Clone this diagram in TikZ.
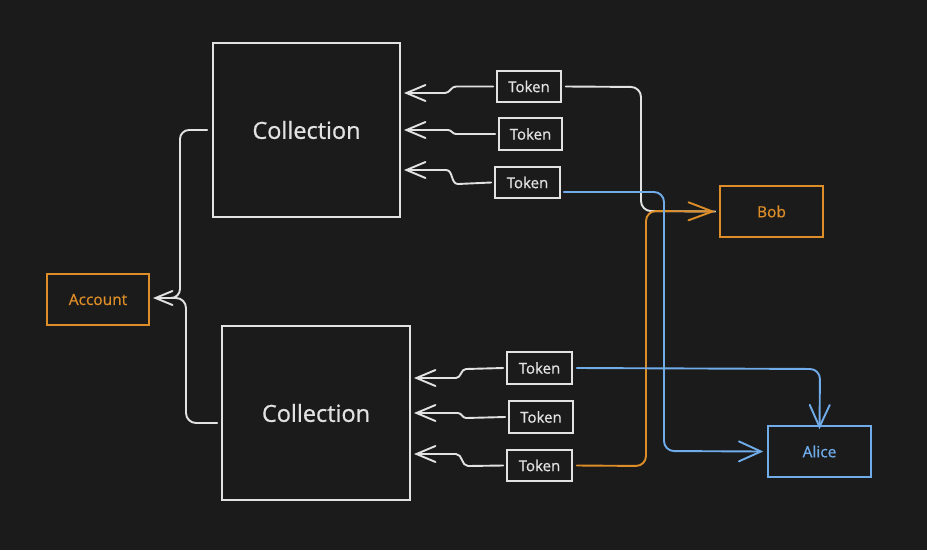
\documentclass[tikz,border=0pt]{standalone}
\usepackage{fontspec}
\setmainfont{Open Sans}
\newfontfamily\lblfont{Open Sans}[FakeBold=0.8]
\usetikzlibrary{arrows.meta}
\definecolor{bg}{RGB}{27,27,27}
\definecolor{fg}{RGB}{226,226,226}
\definecolor{org}{RGB}{222,142,40}
\definecolor{blu}{RGB}{112,172,234}
\tikzset{
  box/.style={draw=fg, line width=1.8pt, inner sep=0pt, text=fg},
  coll/.style={box, minimum width=187pt, minimum height=174pt, font=\lblfont\fontsize{23.5}{26}\selectfont},
  tok/.style={box, line width=1.6pt, minimum width=64pt, minimum height=31pt, font=\lblfont\fontsize{15}{17}\selectfont},
  person/.style={box, line width=1.6pt, minimum width=102pt, minimum height=51pt, font=\lblfont\fontsize{15.5}{17}\selectfont},
  wline/.style={draw=fg, line width=1.9pt, line cap=round, line join=round},
  tipw/.style={-{Straight Barb[length=19pt,width=16pt,line cap=round]}},
  tips/.style={-{Straight Barb[length=17pt,width=14pt,line cap=round]}},
}
\begin{document}
\begin{tikzpicture}[x=1pt,y=-1pt]
\fill[bg] (0,0) rectangle (927,550);
\useasboundingbox (0,0) rectangle (927,550);

% main nodes
\node[coll] (c1) at (306.5,130) {Collection};
\node[coll, minimum width=188pt] (c2) at (316,413) {Collection};
\node[person, draw=org, text=org] (acc) at (98,299.5) {Account};
\node[person, draw=org, text=org, minimum width=103pt] (bob) at (771.5,211.5) {Bob};
\node[person, draw=blu, text=blu, minimum width=103pt] (alice) at (819.5,451.5) {Alice};

% tokens
\node[tok] (t1) at (529,86.5) {Token};
\node[tok, minimum width=63pt, minimum height=32pt] (t2) at (530.5,134) {Token};
\node[tok, minimum width=65pt] (t3) at (527.5,182.5) {Token};
\node[tok, minimum width=65pt, minimum height=32pt] (t4) at (539.5,368) {Token};
\node[tok, minimum height=32pt] (t5) at (541,417) {Token};
\node[tok, minimum width=65pt] (t6) at (539.5,465.5) {Token};

% arrow end points
\coordinate (e1) at (404,93);
\coordinate (e2) at (404,130);
\coordinate (e3) at (404,170);
\coordinate (e4) at (414,378);
\coordinate (e5) at (414,413);
\coordinate (e6) at (414,454);
\coordinate (ea) at (153,298);

% token -> collection
\draw[wline, tipw] ([xshift=-3pt]t1.west) -- (456,86.5) to[out=180,in=0] (445,93) -- (e1);
\draw[wline, tipw] ([xshift=-3pt]t2.west) -- (456,134) to[out=180,in=0] (448,130) -- (e2);
\draw[wline, tipw] ([xshift=-3pt]t3.west) -- (458,184) to[out=180,in=0] (446,170) -- (e3);
\draw[wline, tipw] ([xshift=-3pt]t4.west) -- (466,369) to[out=180,in=0] (456,378) -- (e4);
\draw[wline, tipw] ([xshift=-3pt]t5.west) -- (466,418) to[out=180,in=0] (458,413) -- (e5);
\draw[wline, tipw] ([xshift=-3pt]t6.west) -- (468,466) to[out=180,in=0] (456,454) -- (e6);

% collections -> account
\draw[wline, rounded corners=9pt] ([xshift=-5pt]c1.west) -- (180,130) -- (180,298) -- (172,298);
\draw[wline, rounded corners=10pt, tips] ([xshift=-4pt]c2.west |- 0,423) -- (186,423) -- (186,298) -- (ea);

% token -> Bob (white)
\draw[wline, rounded corners=10pt] ([xshift=4pt]t1.east) -- (641,87) -- (641,211) -- ([xshift=-4pt]bob.west);
% token -> Bob (orange)
\draw[wline, draw=org, rounded corners=10pt, -{Straight Barb[length=24pt,width=18pt,line cap=round]}] ([xshift=4pt]t6.east) -- (646,466) -- (646,211) -- ([xshift=-4pt]bob.west);

% tokens -> Alice (blue)
\draw[wline, draw=blu, rounded corners=10pt, -{Straight Barb[length=22pt,width=20pt,line cap=round]}] ([xshift=3pt]t3.east |- 0,192) -- (664,192) -- (664,451) -- ([xshift=-4pt]alice.west);
\draw[wline, draw=blu, rounded corners=10pt, -{Straight Barb[length=22pt,width=20pt,line cap=round]}] ([xshift=4pt]t4.east) -- (820,369) -- ([yshift=-4pt]alice.north);
\end{tikzpicture}
\end{document}
